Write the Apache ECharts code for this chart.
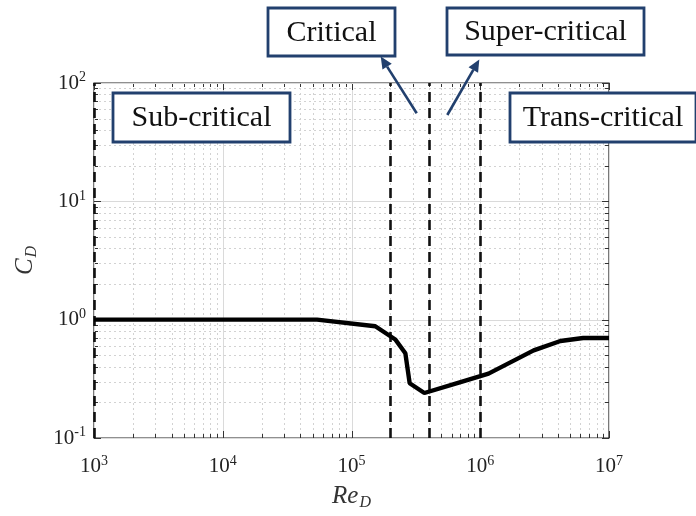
<!DOCTYPE html>
<html>
<head>
<meta charset="utf-8">
<script src="https://cdn.jsdelivr.net/npm/echarts@6/dist/echarts.min.js"></script>
<style>
  html, body { margin: 0; padding: 0; background: #fff; }
  #chart { width: 696px; height: 516px; }
</style>
</head>
<body>
<div id="chart"></div>
<script>
// Drag coefficient of a smooth circular cylinder versus Reynolds number
const reynolds   = [1e3, 5.4e4, 1.53e5, 2.19e5, 2.62e5, 2.83e5, 3.68e5, 7.24e5, 1.16e6, 2.6e6, 4.2e6, 6.3e6, 1e7];
const dragCoeff  = [1.0, 1.0,   0.88,   0.68,   0.52,   0.29,   0.24,   0.30,   0.35,   0.55,  0.66,  0.70,  0.70];

// Flow-regime boundaries (dashed verticals)
const regimeBounds = [1e3, 2e5, 4e5, 1e6];

// Axis ranges and decade ticks
const xDecades = [1e3, 1e4, 1e5, 1e6, 1e7];
const yDecades = [1e-1, 1e0, 1e1, 1e2];

// Regime labels
const regimeLabels = ['Sub-critical', 'Critical', 'Super-critical', 'Trans-critical'];

const SERIF = '"Liberation Serif", "Times New Roman", serif';
const NAVY = '#22406e';

// Minor tick values (2..9 within each decade)
function minorValues(decades) {
  const out = [];
  for (let i = 0; i < decades.length - 1; i++) {
    for (let k = 2; k <= 9; k++) out.push(decades[i] * k);
  }
  return out;
}
const xMinor = minorValues(xDecades);
const yMinor = minorValues(yDecades);

// Grid/tick data: [x, y, kind]  kind 0 = x minor, 1 = y minor, 2 = x major, 3 = y major
const gridData = [];
xMinor.forEach(v => gridData.push([v, 1, 0]));
yMinor.forEach(v => gridData.push([1e4, v, 1]));
xDecades.forEach(v => gridData.push([v, 1, 2]));
yDecades.forEach(v => gridData.push([1e4, v, 3]));

function powLabel(v) {
  const e = Math.round(Math.log10(v));
  return '{b|10}{s|' + e + '}';
}
const powRich = {
  b: { fontFamily: SERIF, fontSize: 21, color: '#222' },
  s: { fontFamily: SERIF, fontSize: 14, color: '#222', verticalAlign: 'bottom', padding: [0, 0, 11, 0] }
};
const nameRich = {
  i: { fontFamily: SERIF, fontStyle: 'italic', fontSize: 25, color: '#333' },
  d: { fontFamily: SERIF, fontStyle: 'italic', fontSize: 16, color: '#333', verticalAlign: 'top', padding: [13, 0, 0, 1] }
};

const chart = echarts.init(document.getElementById('chart'), null, { renderer: 'canvas' });

function renderGrid(params, api) {
  const cs = params.coordSys;
  const left = cs.x, right = cs.x + cs.width, top = cs.y, bottom = cs.y + cs.height;
  const kind = api.value(2);
  const p = api.coord([api.value(0), api.value(1)]);
  const minor = kind < 2;
  const gridStyle = minor
    ? { stroke: '#d2d2d2', lineWidth: 1, lineDash: [2, 3] }
    : { stroke: '#dadada', lineWidth: 1 };
  const tickLen = minor ? 4 : 7;
  const tickStyle = { stroke: '#333', lineWidth: 1 };
  const children = [];
  if (kind === 0 || kind === 2) {
    const x = Math.round(p[0]) + 0.5;
    children.push({ type: 'line', shape: { x1: x, y1: top, x2: x, y2: bottom }, style: gridStyle, silent: true });
    children.push({ type: 'line', shape: { x1: x, y1: bottom, x2: x, y2: bottom - tickLen }, style: tickStyle, silent: true });
    children.push({ type: 'line', shape: { x1: x, y1: top, x2: x, y2: top + tickLen }, style: tickStyle, silent: true });
  } else {
    const y = Math.round(p[1]) + 0.5;
    children.push({ type: 'line', shape: { x1: left, y1: y, x2: right, y2: y }, style: gridStyle, silent: true });
    children.push({ type: 'line', shape: { x1: left, y1: y, x2: left + tickLen, y2: y }, style: tickStyle, silent: true });
    children.push({ type: 'line', shape: { x1: right, y1: y, x2: right - tickLen, y2: y }, style: tickStyle, silent: true });
  }
  return { type: 'group', children: children };
}

// Annotation box + arrow helpers (drawn above the plot)
function boxGraphic(label, x, y, w, h) {
  return [
    { type: 'rect', z: 200, zlevel: 1, shape: { x: x, y: y, width: w, height: h },
      style: { fill: '#fff', stroke: NAVY, lineWidth: 2.8 } },
    { type: 'text', z: 201, zlevel: 1, x: x + w / 2, y: y + h / 2 + 1,
      style: { text: label, font: '30px ' + SERIF, fill: '#111', align: 'center', verticalAlign: 'middle' } }
  ];
}
function arrowGraphic(x1, y1, x2, y2) {
  const ang = Math.atan2(y2 - y1, x2 - x1);
  const L = 12, W = 5.5;
  const bx = x2 - L * Math.cos(ang), by = y2 - L * Math.sin(ang);
  const nx = -Math.sin(ang), ny = Math.cos(ang);
  return [
    { type: 'line', z: 200, zlevel: 1, shape: { x1: x1, y1: y1, x2: bx, y2: by }, style: { stroke: NAVY, lineWidth: 2.6 } },
    { type: 'polygon', z: 200, zlevel: 1, shape: { points: [[x2, y2], [bx + nx * W, by + ny * W], [bx - nx * W, by - ny * W]] },
      style: { fill: NAVY } }
  ];
}

const option = {
  animation: false,
  backgroundColor: '#fff',
  grid: { left: 94, right: 87, top: 83, bottom: 70, show: true, borderColor: '#222', borderWidth: 1.2, backgroundColor: 'transparent' },
  xAxis: {
    type: 'log', logBase: 10, min: 1e3, max: 1e7,
    name: '{i|Re}{d|D}', nameLocation: 'middle', nameGap: 44,
    nameTextStyle: { rich: nameRich },
    axisLine: { show: false },
    axisTick: { show: false },
    splitLine: { show: false },
    axisLabel: { formatter: powLabel, rich: powRich, margin: 16 }
  },
  yAxis: {
    type: 'log', logBase: 10, min: 1e-1, max: 1e2,
    name: '{i|C}{d|D}', nameLocation: 'middle', nameGap: 54, nameRotate: 90,
    nameTextStyle: { rich: nameRich },
    axisLine: { show: false },
    axisTick: { show: false },
    splitLine: { show: false },
    axisLabel: { formatter: powLabel, rich: powRich, margin: 8 }
  },
  series: [
    {
      type: 'custom', renderItem: renderGrid, data: gridData, silent: true, z: 1,
      encode: { x: 0, y: 1 }, clip: false
    },
    {
      type: 'line', z: 5,
      data: reynolds.map((r, i) => [r, dragCoeff[i]]),
      showSymbol: false, symbol: 'none',
      lineStyle: { color: '#000', width: 4.4 },
      markLine: {
        silent: true, symbol: 'none', label: { show: false },
        lineStyle: { color: '#111', type: [10, 6], width: 2.6 },
        data: regimeBounds.map(v => ({ xAxis: v }))
      }
    }
  ],
  graphic: [].concat(
    boxGraphic(regimeLabels[0], 113, 93, 177, 49),
    boxGraphic(regimeLabels[1], 268, 8, 127, 48),
    boxGraphic(regimeLabels[2], 447, 8, 197, 47),
    boxGraphic(regimeLabels[3], 510, 93, 186, 49),
    arrowGraphic(416.7, 113.3, 380.7, 56.5),
    arrowGraphic(447.3, 115, 479.3, 59.5)
  )
};

chart.setOption(option);
</script>
</body>
</html>
